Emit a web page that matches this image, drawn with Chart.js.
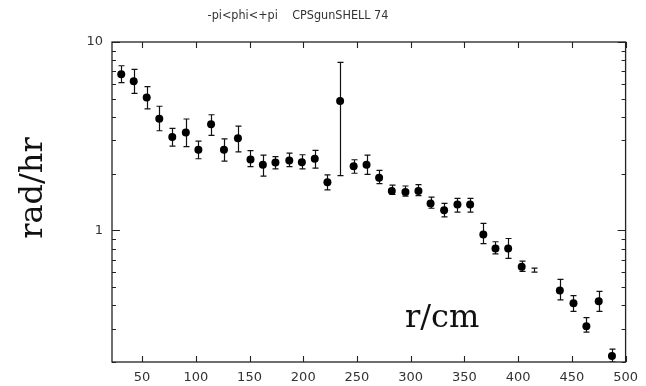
<!DOCTYPE html>
<html>
<head>
<meta charset="utf-8">
<script src="https://cdn.jsdelivr.net/npm/chart.js@4/dist/chart.umd.min.js"></script>
<style>
html, body { margin: 0; padding: 0; background: #fff; }
</style>
</head>
<body>
<canvas id="dose-chart" width="646" height="386"></canvas>
<script>
// radius bins (cm) and dose values
const radius = [30.6, 42.2, 54.3, 66.0, 78.1, 90.7, 102.4, 114.2, 126.2, 139.2, 150.9, 162.4, 174.1,
    187.0, 198.7, 210.7, 222.5, 234.3, 246.9, 258.9, 270.6, 282.4, 295.1, 307.2, 318.5, 331.1,
    343.5, 355.3, 367.6, 378.9, 390.7, 403.3, 414.8, 438.8, 451.5, 463.5, 475.0, 487.3];
const dose = [6.74, 6.18, 5.08, 3.91, 3.13, 3.31, 2.68, 3.66, 2.68, 3.08, 2.38, 2.23, 2.29,
    2.35, 2.30, 2.40, 1.80, 4.86, 2.19, 2.23, 1.90, 1.62, 1.60, 1.62, 1.39, 1.28,
    1.37, 1.37, 0.95, 0.80, 0.80, 0.64, null, 0.48, 0.41, 0.31, 0.42, 0.215];
const doseHigh = [7.48, 7.16, 5.79, 4.56, 3.48, 3.90, 2.98, 4.11, 3.06, 3.58, 2.65, 2.51, 2.46,
    2.57, 2.52, 2.66, 1.97, 7.80, 2.37, 2.51, 2.08, 1.74, 1.72, 1.75, 1.50, 1.39,
    1.48, 1.48, 1.09, 0.87, 0.905, 0.687, 0.63, 0.549, 0.450, 0.344, 0.474, 0.234];
const doseLow = [6.08, 5.34, 4.42, 3.38, 2.80, 2.78, 2.40, 3.19, 2.33, 2.61, 2.18, 1.94, 2.12,
    2.18, 2.12, 2.14, 1.64, 1.95, 2.01, 1.98, 1.77, 1.55, 1.52, 1.53, 1.31, 1.18,
    1.25, 1.25, 0.85, 0.75, 0.71, 0.606, 0.60, 0.427, 0.371, 0.288, 0.371, 0.20];
const xTicks = [50, 100, 150, 200, 250, 300, 350, 400, 450, 500];
const yTicks = [1, 10];
const yMinorTicks = [0.2, 0.3, 0.4, 0.5, 0.6, 0.7, 0.8, 0.9, 2, 3, 4, 5, 6, 7, 8, 9];

const titleText = '-pi<phi<+pi    CPSgunSHELL 74';
const yLabel = 'rad/hr';
const xLabel = 'r/cm';

// 誤差棒 (drawn under the markers)
const errorBars = {
    id: 'errorBars',
    beforeDatasetsDraw(chart) {
        const { ctx, chartArea: a, scales: { x, y } } = chart;
        ctx.save();
        ctx.beginPath();
        ctx.rect(a.left, a.top, a.right - a.left, a.bottom - a.top);
        ctx.clip();
        ctx.strokeStyle = '#111';
        ctx.lineWidth = 1.2;
        radius.forEach((r, i) => {
            const px = Math.round(x.getPixelForValue(r)) + 0.5;
            const top = y.getPixelForValue(doseHigh[i]);
            const bot = y.getPixelForValue(doseLow[i]);
            ctx.beginPath();
            ctx.moveTo(px, top);
            ctx.lineTo(px, bot);
            ctx.moveTo(px - 3, top);
            ctx.lineTo(px + 3, top);
            ctx.moveTo(px - 3, bot);
            ctx.lineTo(px + 3, bot);
            ctx.stroke();
        });
        ctx.restore();
    }
};

// frame, inward ticks and the free text
const frame = {
    id: 'frame',
    afterDraw(chart) {
        const { ctx, chartArea: a, scales: { x, y } } = chart;
        ctx.save();
        ctx.strokeStyle = '#222';
        ctx.lineWidth = 1.3;
        ctx.strokeRect(a.left, a.top, a.right - a.left, a.bottom - a.top);
        ctx.lineWidth = 1.1;
        ctx.beginPath();
        xTicks.forEach(v => {
            const px = Math.round(x.getPixelForValue(v)) + 0.5;
            ctx.moveTo(px, a.bottom);
            ctx.lineTo(px, a.bottom - 6);
            ctx.moveTo(px, a.top);
            ctx.lineTo(px, a.top + 6);
        });
        yTicks.forEach(v => {
            const py = Math.round(y.getPixelForValue(v)) + 0.5;
            ctx.moveTo(a.left, py);
            ctx.lineTo(a.left + 8, py);
            ctx.moveTo(a.right, py);
            ctx.lineTo(a.right - 8, py);
        });
        yMinorTicks.forEach(v => {
            const py = Math.round(y.getPixelForValue(v)) + 0.5;
            ctx.moveTo(a.left, py);
            ctx.lineTo(a.left + 4, py);
            ctx.moveTo(a.right, py);
            ctx.lineTo(a.right - 4, py);
        });
        ctx.stroke();

        ctx.fillStyle = '#333';
        ctx.font = '12.5px "DejaVu Sans Condensed", "Liberation Sans", sans-serif';
        ctx.textAlign = 'center';
        ctx.textBaseline = 'middle';
        ctx.fillText(titleText, 298, 16);

        ctx.fillStyle = '#111';
        ctx.font = '32px "DejaVu Serif", serif';
        ctx.textBaseline = 'alphabetic';
        ctx.textAlign = 'left';
        ctx.fillText(xLabel, 405, 327);

        ctx.translate(42, 188);
        ctx.rotate(-Math.PI / 2);
        ctx.textAlign = 'center';
        ctx.fillText(yLabel, 0, 0);
        ctx.restore();
    }
};

const points = radius.map((r, i) => ({ x: r, y: dose[i] }));

new Chart(document.getElementById('dose-chart'), {
    type: 'scatter',
    data: {
        datasets: [{
            data: points,
            backgroundColor: '#000',
            borderWidth: 0,
            pointRadius: 4,
            pointHoverRadius: 4
        }]
    },
    options: {
        responsive: false,
        animation: false,
        layout: { padding: { top: 42, right: 17, left: 0, bottom: 0 } },
        plugins: {
            legend: { display: false },
            tooltip: { enabled: false },
            title: { display: false }
        },
        scales: {
            x: {
                type: 'linear',
                min: 22,
                max: 500,
                grid: { display: false, drawTicks: false },
                border: { display: false },
                afterBuildTicks: s => { s.ticks = xTicks.map(v => ({ value: v })); },
                afterFit: s => { s.height = 24; },
                ticks: {
                    padding: 8,
                    color: '#333',
                    font: { family: 'DejaVu Sans', size: 13 },
                    callback: v => String(v)
                }
            },
            y: {
                type: 'logarithmic',
                min: 0.2,
                max: 10,
                grid: { display: false, drawTicks: false },
                border: { display: false },
                afterBuildTicks: s => { s.ticks = yTicks.map(v => ({ value: v })); },
                afterFit: s => { s.width = 112; },
                ticks: {
                    padding: 9,
                    color: '#333',
                    font: { family: 'DejaVu Sans', size: 13 },
                    callback: v => String(v)
                }
            }
        }
    },
    plugins: [errorBars, frame]
});
</script>
</body>
</html>
